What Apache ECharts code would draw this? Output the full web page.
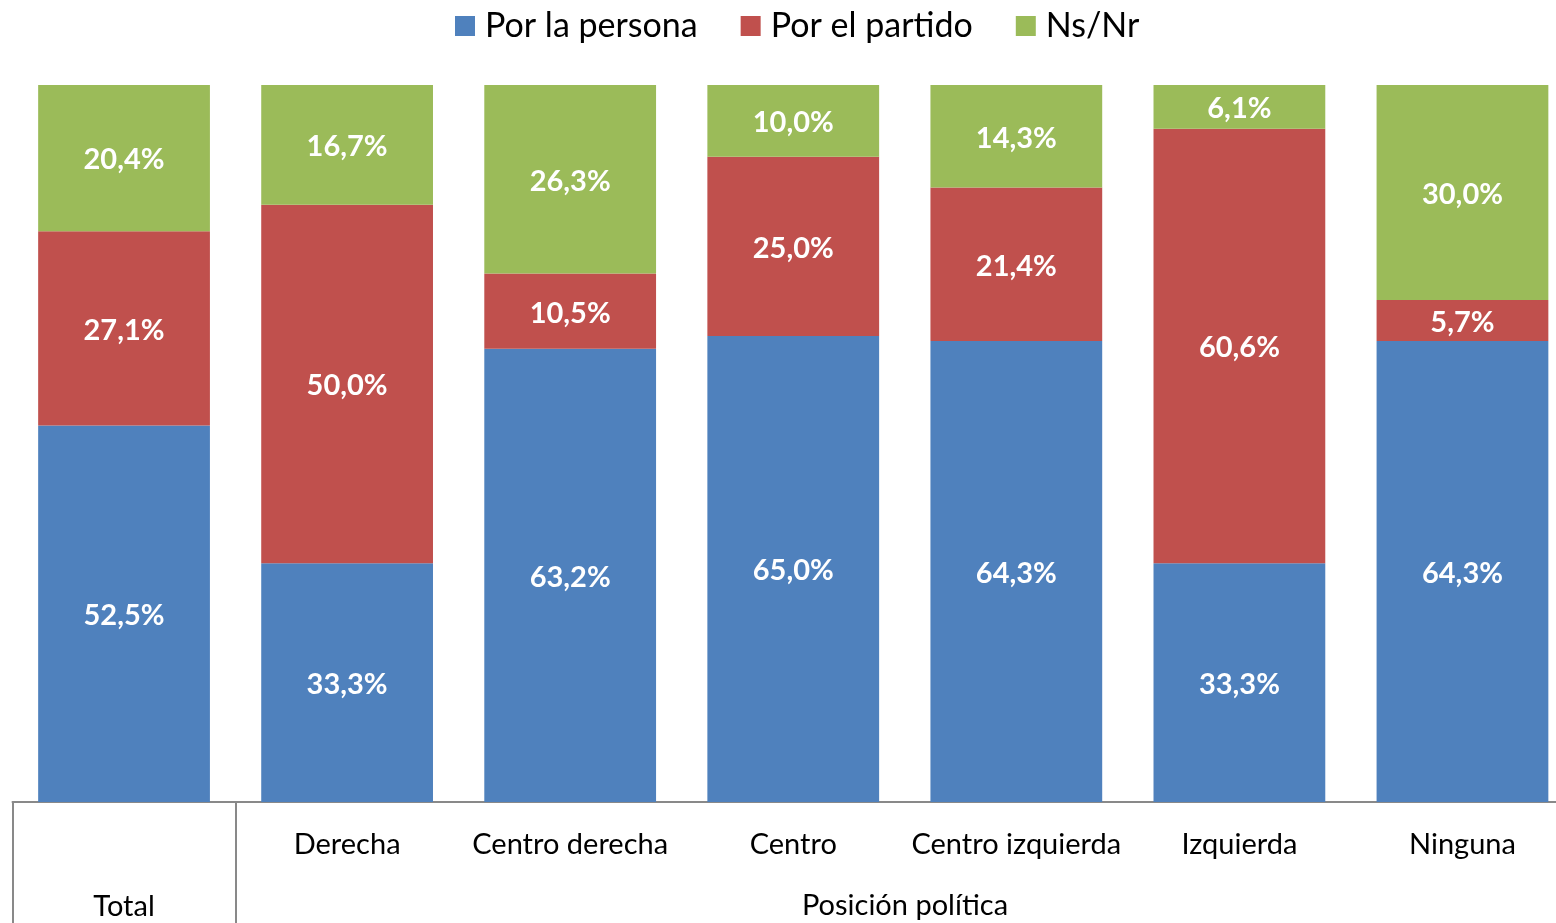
<!DOCTYPE html>
<html>
<head>
<meta charset="utf-8">
<script src="https://cdn.jsdelivr.net/npm/echarts@6/dist/echarts.min.js"></script>
<style>
  html, body { margin: 0; padding: 0; background: #fff; overflow: hidden; }
  /* el gráfico original está recortado por la derecha */
  #chart { width: 1574px; height: 923px; }
</style>
</head>
<body>
<div id="chart"></div>
<script>
// categorías del eje x
const categories = ["Total", "Derecha", "Centro derecha", "Centro", "Centro izquierda", "Izquierda", "Ninguna"];
const groupLabel = "Posición política";

// valores (%)
const porLaPersona = [52.5, 33.3, 63.2, 65.0, 64.3, 33.3, 64.3];
const porElPartido = [27.1, 50.0, 10.5, 25.0, 21.4, 60.6, 5.7];
const nsNr = [20.4, 16.7, 26.3, 10.0, 14.3, 6.1, 30.0];

const font = "Lato, 'Open Sans', sans-serif";

const chart = echarts.init(document.getElementById("chart"));

const labelStyle = {
  show: true,
  position: "inside",
  offset: [0, 2],
  color: "#fff",
  fontFamily: font,
  fontWeight: "bold",
  fontSize: 29,
  formatter: (p) => p.value.toFixed(1).replace(".", ",") + "%",
};

const makeSeries = (name, data, color) => ({
  name: name,
  type: "bar",
  stack: "total",
  data: data,
  barCategoryGap: "23%",
  itemStyle: { color: color },
  label: labelStyle,
});

const option = {
  animation: false,
  legend: {
    top: 4,
    left: 450,
    itemWidth: 20,
    itemHeight: 20,
    itemGap: 43,
    icon: "rect",
    textStyle: { fontFamily: font, fontSize: 34, color: "#000", padding: [0, 0, 0, 5] },
  },
  grid: {
    left: 12.5,
    top: 85,
    right: 0,
    height: 717,
    containLabel: false,
  },
  xAxis: {
    type: "category",
    data: categories,
    axisLine: { lineStyle: { color: "#898989", width: 2 } },
    axisTick: {
      show: true,
      length: 121,
      interval: (i) => i <= 1,
      lineStyle: { color: "#898989", width: 2 },
    },
    axisLabel: {
      interval: 0,
      margin: 28,
      formatter: (v, i) => (i === 0 ? "{low|" + v + "}" : "{top|" + v + "}"),
      rich: {
        top: { fontFamily: font, fontSize: 29, color: "#000" },
        low: { fontFamily: font, fontSize: 29, color: "#000", padding: [62, 0, 0, 0] },
      },
    },
  },
  yAxis: {
    type: "value",
    min: 0,
    max: 100,
    show: false,
    splitLine: { show: false },
  },
  graphic: [
    {
      type: "text",
      x: 905,
      y: 906,
      style: {
        text: groupLabel,
        fontFamily: font,
        fontSize: 29,
        fill: "#000",
        align: "center",
        verticalAlign: "middle",
      },
    },
  ],
  series: [
    makeSeries("Por la persona", porLaPersona, "#4F81BD"),
    makeSeries("Por el partido", porElPartido, "#C0504D"),
    makeSeries("Ns/Nr", nsNr, "#9BBB59"),
  ],
};

chart.setOption(option);
</script>
</body>
</html>
